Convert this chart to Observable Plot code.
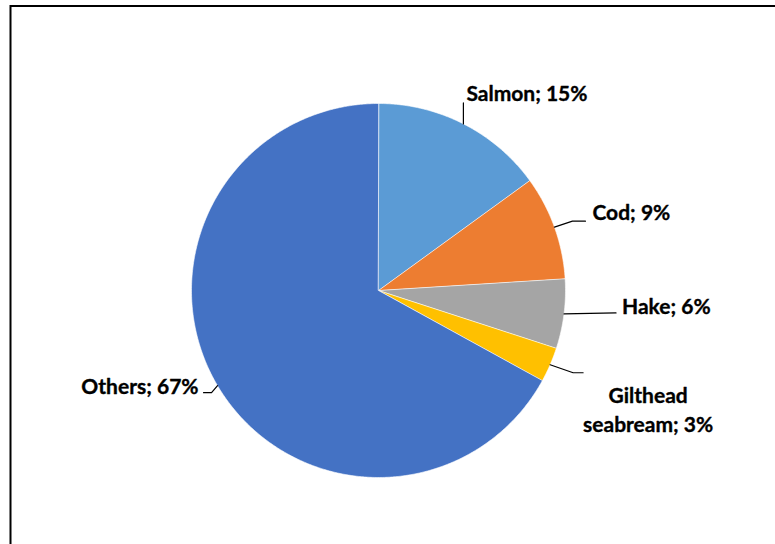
<!DOCTYPE html>
<html>
<head>
<meta charset="utf-8">
<script src="https://cdn.jsdelivr.net/npm/d3@7"></script>
<script src="https://cdn.jsdelivr.net/npm/@observablehq/plot@0.6"></script>
<style>
  html, body { margin: 0; padding: 0; background: #fff; overflow: hidden; }
  #chart svg { display: block; overflow: hidden; }
</style>
</head>
<body>
<div id="chart"></div>
<script>
// ---- data ----
const species = ["Salmon", "Cod", "Hake", "Gilthead seabream", "Others"];
const shares = [15, 9, 6, 3, 67];
const labelLines = [["Salmon; 15%"], ["Cod; 9%"], ["Hake; 6%"], ["Gilthead", "seabream; 3%"], ["Others; 67%"]];
const colors = ["#5B9BD5", "#ED7D31", "#A5A5A5", "#FFC000", "#4472C4"];

// ---- layout (pixels) ----
const W = 775, H = 544;
const cx = 378, cy = 290, R = 187;
const fontSize = 21;
// leader elbows/ends and label anchors as pixel offsets from the slice's mid-angle point on the rim
const labelLayout = [
  {leader: [[0, -21]], text: [3, -30], anchor: "start"},
  {leader: [[18, -6], [31, -6]], text: [38, -13.5], anchor: "start"},
  {leader: [[52, -1]], text: [58, -6.5], anchor: "start"},
  {leader: [[23, 8], [33, 8]], text: [98, 46], anchor: "middle"},
  {leader: [[-6, 7], [-14, 7]], text: [-19, 1.5], anchor: "end"}
];

// scales: one unit = R pixels, centred on the pie centre
const xDomain = [-cx / R, (W - cx) / R];
const yDomain = [-(H - cy) / R, cy / R];

// slices
const total = d3.sum(shares);
let acc = 0;
const slices = species.map((name, i) => {
  const a0 = acc / total * 2 * Math.PI;
  acc += shares[i];
  const a1 = acc / total * 2 * Math.PI;
  return {name, a0, a1, mid: (a0 + a1) / 2, i};
});
const polyPts = [];
for (const s of slices) {
  polyPts.push({name: s.name, x: 0, y: 0});
  const n = Math.max(4, Math.ceil((s.a1 - s.a0) / (Math.PI / 360)));
  for (let k = 0; k <= n; k++) {
    const a = s.a0 + (s.a1 - s.a0) * k / n;
    polyPts.push({name: s.name, x: Math.sin(a), y: Math.cos(a)});
  }
}

// leaders and labels
const leaderPts = [];
const labelRows = [];
slices.forEach((s, i) => {
  const ax = Math.sin(s.mid), ay = Math.cos(s.mid);
  const L = labelLayout[i];
  leaderPts.push({name: s.name, x: ax, y: ay});
  for (const [dx, dy] of L.leader) leaderPts.push({name: s.name, x: ax + dx / R, y: ay - dy / R});
  const lines = labelLines[i];
  const lh = 29;
  lines.forEach((t, j) => {
    labelRows.push({
      text: t,
      x: ax + L.text[0] / R,
      y: ay - (L.text[1] + (j - (lines.length - 1) / 2) * lh) / R,
      anchor: L.anchor
    });
  });
});

const textStyle = {x: "x", y: "y", text: "text", fontSize, fontWeight: "bold", fill: "#000", stroke: "#000", strokeWidth: 0.35};

const chart = Plot.plot({
  width: W,
  height: H,
  margin: 0,
  style: {fontFamily: "Lato, 'Open Sans', sans-serif", background: "#fff"},
  x: {domain: xDomain, axis: null},
  y: {domain: yDomain, axis: null},
  color: {domain: species, range: colors},
  marks: [
    Plot.frame({stroke: "#000", strokeWidth: 2, insetLeft: 10, insetTop: 5.5, insetRight: -20, insetBottom: -20}),
    Plot.line(polyPts, {x: "x", y: "y", z: "name", fill: "name", stroke: "#fff", strokeWidth: 0.6, curve: "linear-closed"}),
    Plot.line(leaderPts, {x: "x", y: "y", z: "name", stroke: "#000", strokeWidth: 1.2}),
    Plot.text(labelRows.filter(d => d.anchor === "start"), {...textStyle, textAnchor: "start"}),
    Plot.text(labelRows.filter(d => d.anchor === "middle"), {...textStyle, textAnchor: "middle"}),
    Plot.text(labelRows.filter(d => d.anchor === "end"), {...textStyle, textAnchor: "end"})
  ]
});
document.getElementById("chart").appendChild(chart);
</script>
</body>
</html>
